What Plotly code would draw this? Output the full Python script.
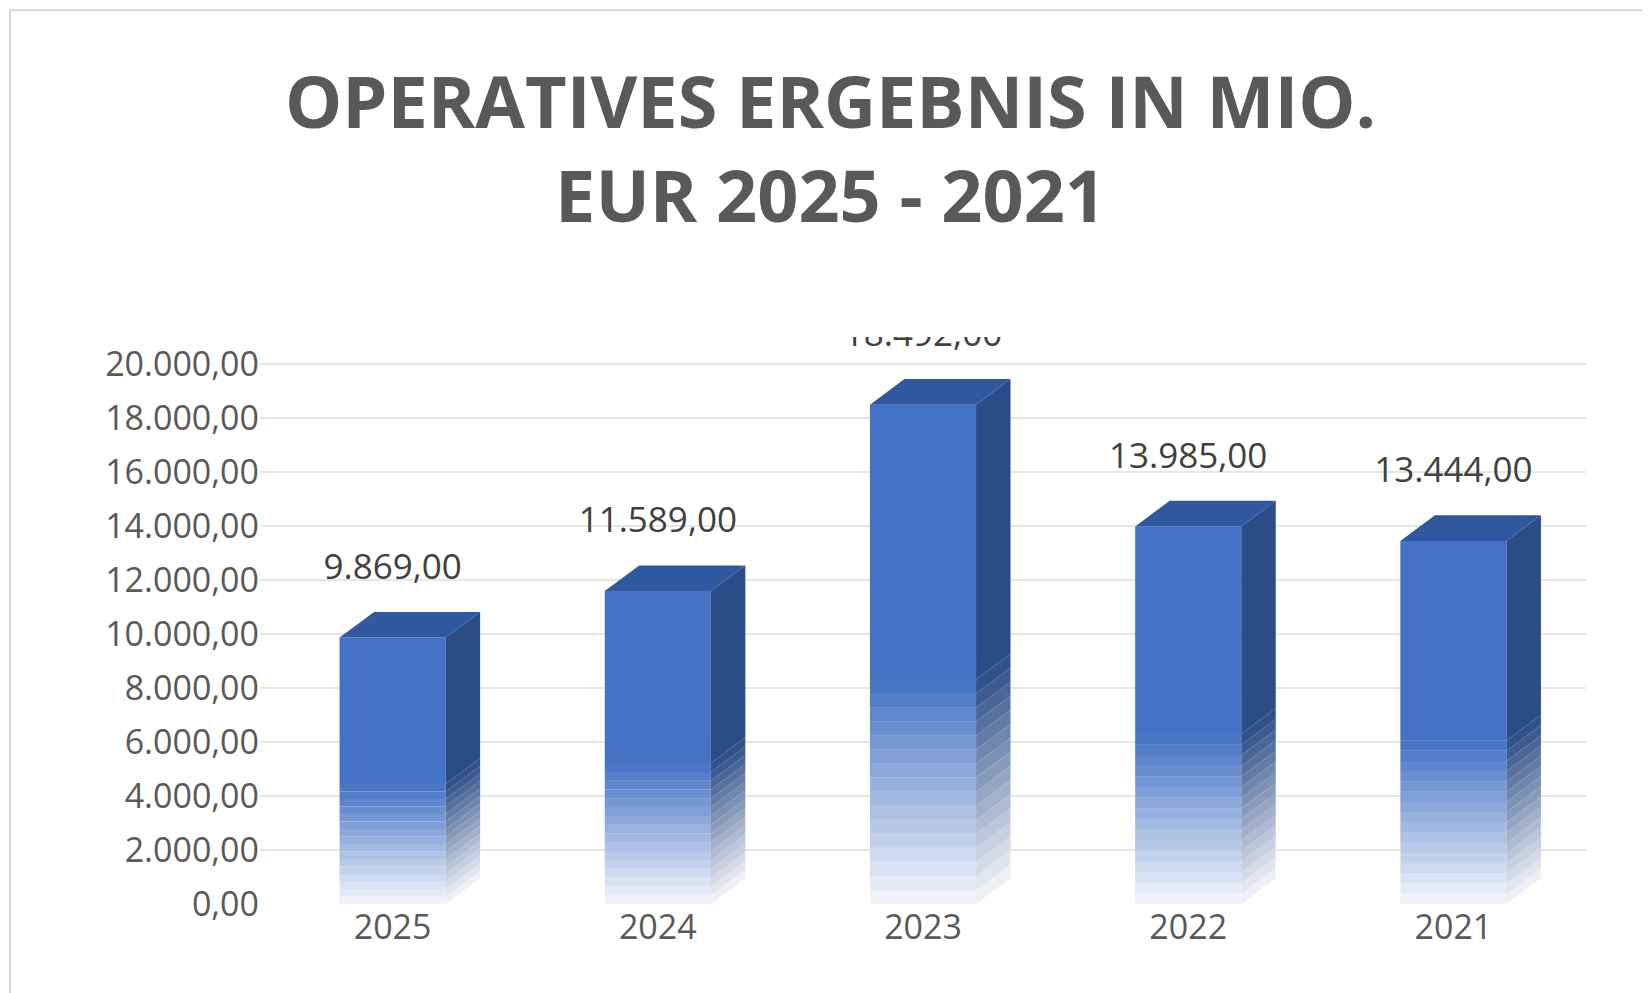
import plotly.graph_objects as go

years = ["2025", "2024", "2023", "2022", "2021"]
values = [9869, 11589, 18492, 13985, 13444]
labels = ["9.869,00", "11.589,00", "18.492,00", "13.985,00", "13.444,00"]
yticks = list(range(0, 20001, 2000))
yticktext = ["{:,.2f}".format(v).replace(",", "X").replace(".", ",").replace("X", ".") for v in yticks]

front = "#4472C4"
side = (43, 76, 134)
top = "#30589E"
bw = 0.4      # bar width
dx = 0.13     # depth in x
dy = 950      # depth in y
n = 16        # fade steps


def mix(c, a):
    return "rgb({},{},{})".format(*[int(255 + (ch - 255) * a) for ch in c])


fig = go.Figure()

fade_top = [v * 0.45 for v in values]

for i, v in enumerate(values):
    x0, x1 = i - bw / 2, i + bw / 2
    f = fade_top[i]
    # side face solid part
    fig.add_trace(go.Scatter(x=[x1, x1 + dx, x1 + dx, x1, x1], y=[f, f + dy, v + dy, v, f],
                             fill="toself", fillcolor=mix(side, 1), line=dict(width=0),
                             mode="lines", hoverinfo="skip", showlegend=False))
    # side face fade
    for k in range(n):
        lo, hi = f * k / n, f * (k + 1) / n
        a = 0.05 + 0.95 * (k + 0.5) / n
        fig.add_trace(go.Scatter(x=[x1, x1 + dx, x1 + dx, x1, x1],
                                 y=[lo, lo + dy, hi + dy, hi, lo],
                                 fill="toself", fillcolor=mix(side, a), line=dict(width=0),
                                 mode="lines", hoverinfo="skip", showlegend=False))
    # top face
    fig.add_trace(go.Scatter(x=[x0, x0 + dx, x1 + dx, x1, x0], y=[v, v + dy, v + dy, v, v],
                             fill="toself", fillcolor=top, line=dict(width=0),
                             mode="lines", hoverinfo="skip", showlegend=False))

# front face solid part, then a fade near the bottom
fig.add_trace(go.Bar(x=list(range(5)), y=[v - f for v, f in zip(values, fade_top)], base=fade_top,
                     width=bw, marker=dict(color=front, line=dict(width=0)),
                     hoverinfo="skip", showlegend=False))
for k in range(n):
    lo = [f * k / n for f in fade_top]
    hi = [f / n * 1.02 for f in fade_top]
    a = 0.05 + 0.95 * (k + 0.5) / n
    fig.add_trace(go.Bar(x=list(range(5)), y=hi, base=lo, width=bw,
                         marker=dict(color=mix((68, 114, 196), a), line=dict(width=0)),
                         hoverinfo="skip", showlegend=False))

fig.add_trace(go.Scatter(x=list(range(5)), y=[v + dy + 900 for v in values], text=labels,
                         mode="text", textposition="top center",
                         textfont=dict(size=35, color="#404040"),
                         hoverinfo="skip", showlegend=False))

fig.update_layout(
    width=1650, height=993,
    paper_bgcolor="white", plot_bgcolor="white",
    margin=dict(l=252, r=72, t=329, b=97),
    barmode="overlay",
    font=dict(family="Open Sans, Noto Sans, sans-serif", color="#595959"),
    annotations=[dict(text="<b>OPERATIVES ERGEBNIS IN MIO.<br>EUR 2025 - 2021</b>",
                      xref="paper", yref="paper", x=0.43, y=1 + 190 / 567,
                      xanchor="center", yanchor="middle", showarrow=False,
                      font=dict(size=72, color="#595959"))],
    xaxis=dict(range=[-0.5, 4.5], tickvals=list(range(5)), ticktext=years,
               showgrid=False, zeroline=False, showline=False,
               tickfont=dict(size=34, color="#595959"), ticks=""),
    yaxis=dict(range=[0, 21000], tickvals=yticks, ticktext=yticktext,
               showgrid=True, gridcolor="#E6E6E6", gridwidth=2, zeroline=False,
               tickfont=dict(size=34, color="#595959"), ticks="", ticklen=0),
    shapes=[dict(type="rect", xref="paper", yref="paper",
                 x0=-250 / 1326, x1=1 + 70 / 1326, y0=-95 / 567, y1=1 + 327 / 567,
                 line=dict(color="#D9D9D9", width=2))],
)

fig.write_html("out.html")
